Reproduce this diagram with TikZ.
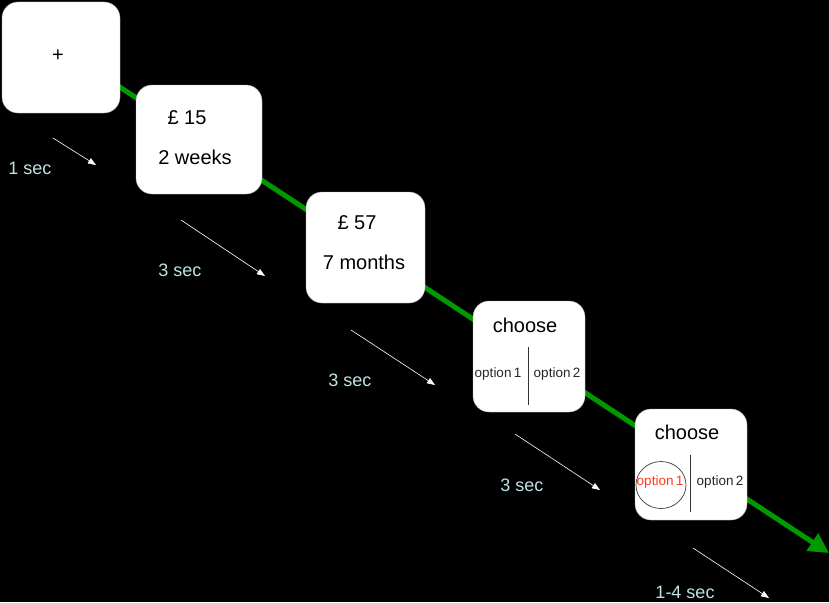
\documentclass[tikz,border=0pt]{standalone}
\usepackage{fontspec}
\setmainfont{Liberation Sans}
\usetikzlibrary{arrows.meta,shapes.geometric}
\definecolor{timecol}{HTML}{BDE3E2}
\definecolor{linegreen}{HTML}{009A00}
\definecolor{optred}{HTML}{FF3B1F}
\tikzset{
  screen/.style={fill=white, draw=gray!60, line width=0.4pt, rounded corners=16pt, inner sep=0pt},
  big/.style={font=\fontsize{20}{22}\selectfont, text=black, inner sep=0pt},
  opt/.style={font=\fontsize{13.5}{15}\selectfont, text=black!85, inner sep=0pt},
  timelbl/.style={font=\fontsize{18}{20}\selectfont, text=timecol, inner sep=0pt},
  timearrow/.style={draw=white, line width=0.6pt, -{Triangle[length=8pt,width=6pt]}},
  divider/.style={draw=black!80, line width=0.8pt},
}
\begin{document}
\begin{tikzpicture}[x=1pt,y=-1pt]
\fill[black] (0,0) rectangle (829,602);
\useasboundingbox (0,0) rectangle (829,602);
% timeline
\coordinate (tstart) at (100,74);
\coordinate (tend) at (829,553);
\draw[linegreen, line width=5pt, -{Triangle[length=20pt,width=20pt]}] (tstart) -- (tend);
% screens
\node[screen, minimum width=118pt, minimum height=111pt] (s1) at (61,57.5) {};
\node[screen, minimum width=126pt, minimum height=109pt] (s2) at (199,139.5) {};
\node[screen, minimum width=119pt, minimum height=111pt] (s3) at (365.5,247.5) {};
\node[screen, minimum width=112pt, minimum height=111pt] (s4) at (529,356.5) {};
\node[screen, minimum width=112pt, minimum height=111pt] (s5) at (691,464.5) {};
% screen contents
\node[big] (plus) at (58,56) {+};
\node[big] (a1) at (187,118) {£ 15};
\node[big] (d1) at (195,157) {2 weeks};
\node[big] (a2) at (357,223) {£ 57};
\node[big] (d2) at (364,262) {7 months};
\node[big] (c1) at (525,325) {choose};
\coordinate (v1t) at (528,347);
\coordinate (v1b) at (528,405);
\draw[divider] (v1t) -- (v1b);
\node[opt] (o11) at (498,374) {option\,1};
\node[opt] (o12) at (557,374) {option\,2};
\node[big] (c2) at (687,432) {choose};
\coordinate (v2t) at (690,455);
\coordinate (v2b) at (690,512);
\draw[divider] (v2t) -- (v2b);
\node[draw=black!75, line width=0.7pt, ellipse, minimum width=50pt, minimum height=47pt, inner sep=0pt] (ring) at (661,485) {};
\node[opt, text=optred] (o21) at (660,482) {option\,1};
\node[opt] (o22) at (720,482) {option\,2};
% time arrows
\coordinate (ta1) at (53,138); \coordinate (tb1) at (96,165);
\coordinate (ta2) at (181,220); \coordinate (tb2) at (265,276);
\coordinate (ta3) at (351,330); \coordinate (tb3) at (435,385);
\coordinate (ta4) at (515,434); \coordinate (tb4) at (600,490);
\coordinate (ta5) at (693,548); \coordinate (tb5) at (769,598);
\draw[timearrow] (ta1) -- (tb1);
\draw[timearrow] (ta2) -- (tb2);
\draw[timearrow] (ta3) -- (tb3);
\draw[timearrow] (ta4) -- (tb4);
\draw[timearrow] (ta5) -- (tb5);
\node[timelbl] (l1) at (30,168) {1 sec};
\node[timelbl] (l2) at (180,270) {3 sec};
\node[timelbl] (l3) at (350,380) {3 sec};
\node[timelbl] (l4) at (522,485) {3 sec};
\node[timelbl] (l5) at (685,592) {1-4 sec};
\end{tikzpicture}
\end{document}
